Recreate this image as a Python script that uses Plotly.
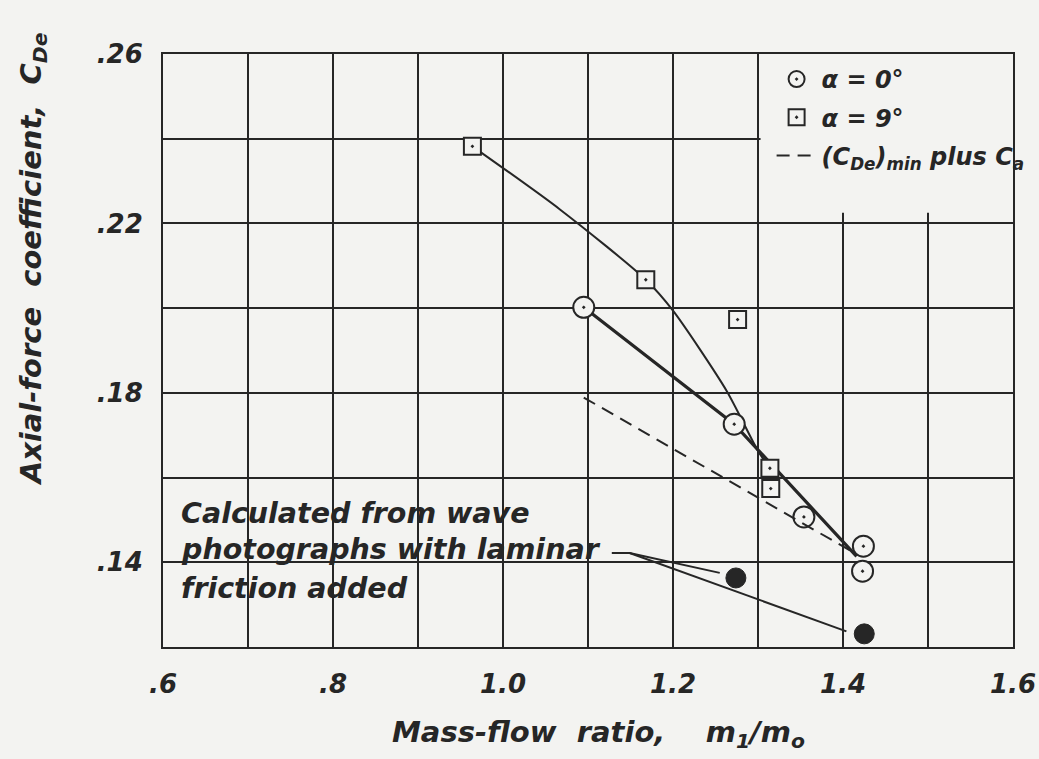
import plotly.graph_objects as go

# ---- data ----
alpha0_x = [1.095, 1.272, 1.354, 1.424, 1.423]
alpha0_y = [0.2002, 0.1726, 0.1507, 0.1438, 0.1379]

alpha9_x = [0.964, 1.168, 1.276, 1.314, 1.315]
alpha9_y = [0.2382, 0.2067, 0.1973, 0.1622, 0.1574]

calc_x = [1.274, 1.425]
calc_y = [0.1363, 0.1231]

# faired curves
fair0_x = [1.095, 1.272, 1.416]
fair0_y = [0.2002, 0.1726, 0.1414]

fair9_x = [0.964, 1.067, 1.168, 1.200, 1.263, 1.300, 1.314]
fair9_y = [0.2382, 0.2233, 0.2067, 0.1994, 0.1805, 0.1663, 0.1622]

dash_x = [1.095, 1.416]
dash_y = [0.1789, 0.1419]

lead1_x = [1.128, 1.149, 1.255]
lead1_y = [0.1422, 0.1422, 0.1375]
lead2_x = [1.149, 1.404]
lead2_y = [0.1422, 0.1237]

x_ticks = [0.6, 0.7, 0.8, 0.9, 1.0, 1.1, 1.2, 1.3, 1.4, 1.5, 1.6]
x_labels = [".6", "", ".8", "", "1.0", "", "1.2", "", "1.4", "", "1.6"]
y_ticks = [0.12, 0.14, 0.16, 0.18, 0.20, 0.22, 0.24, 0.26]
y_labels = ["", ".14", "", ".18", "", ".22", "", ".26"]

note_lines = ["Calculated from wave", "photographs with laminar", "friction added"]
note_y = [0.1516, 0.1431, 0.1338]

INK = "#262626"
BG = "#f3f3f1"
FONT = "DejaVu Sans"

fig = go.Figure()

line_kw = dict(mode="lines", hoverinfo="skip", showlegend=False)
fig.add_trace(go.Scatter(x=fair9_x, y=fair9_y, line=dict(color=INK, width=2, shape="spline", smoothing=0.7), **line_kw))
fig.add_trace(go.Scatter(x=fair0_x, y=fair0_y, line=dict(color=INK, width=3.2), **line_kw))
fig.add_trace(go.Scatter(x=lead1_x, y=lead1_y, line=dict(color=INK, width=2), **line_kw))
fig.add_trace(go.Scatter(x=lead2_x, y=lead2_y, line=dict(color=INK, width=2), **line_kw))

fig.add_trace(go.Scatter(x=calc_x, y=calc_y, mode="markers", showlegend=False,
                         marker=dict(symbol="circle", size=20, color=INK, line=dict(color=INK, width=1))))

fig.add_trace(go.Scatter(x=alpha0_x, y=alpha0_y, mode="markers", name="α = 0°", legendgroup="a",
                         marker=dict(symbol="circle-dot", size=21, color=BG, line=dict(color=INK, width=2))))
fig.add_trace(go.Scatter(x=alpha9_x, y=alpha9_y, mode="markers", name="α = 9°", legendgroup="b",
                         marker=dict(symbol="square-dot", size=17, color=BG, line=dict(color=INK, width=2))))
fig.add_trace(go.Scatter(x=dash_x, y=dash_y, mode="lines", legendgroup="c",
                         name="(C<sub>De</sub>)<sub>min</sub> plus C<sub>a</sub>",
                         line=dict(color=INK, width=2, dash="13px,8px")))

# blank area behind legend
fig.add_shape(type="rect", x0=1.303, x1=1.6, y0=0.2225, y1=0.26, xref="x", yref="y",
              fillcolor=BG, line=dict(width=0), layer="between")

for t, yy in zip(note_lines, note_y):
    fig.add_annotation(x=0.619, y=yy, xref="x", yref="y", text=t, showarrow=False,
                       xanchor="left", yanchor="middle",
                       font=dict(family=FONT, size=28.5, color=INK, style="italic", weight="bold"))

fig.add_annotation(x=-0.178, y=0.655, xref="paper", yref="paper", textangle=-90,
                   text="Axial-force  coefficient,  C<sub>De</sub>", showarrow=False,
                   font=dict(family=FONT, size=29, color=INK, style="italic", weight="bold"))
fig.add_annotation(x=0.512, y=-0.182, xref="paper", yref="paper",
                   text="Mass-flow  ratio,    m<sub>1</sub>/m<sub>o</sub>", showarrow=False,
                   font=dict(family=FONT, size=29, color=INK, style="italic", weight="bold"))

axis_common = dict(showgrid=True, gridcolor=INK, gridwidth=2, zeroline=False, automargin=False,
                   showline=True, linecolor=INK, linewidth=2, mirror=True, ticks="",
                   tickfont=dict(family=FONT, size=26, color=INK, style="italic", weight="bold"))

fig.update_xaxes(range=[0.6, 1.6], tickmode="array", tickvals=x_ticks, ticktext=x_labels,
                 ticklabelstandoff=13, **axis_common)
fig.update_yaxes(range=[0.12, 0.26], tickmode="array", tickvals=y_ticks, ticktext=y_labels,
                 ticklabelstandoff=13, **axis_common)

fig.update_layout(
    width=1039, height=759,
    margin=dict(l=163, r=26, t=54, b=112, autoexpand=False),
    paper_bgcolor=BG, plot_bgcolor=BG,
    showlegend=True,
    legend=dict(x=0.716, y=0.995, xanchor="left", yanchor="top", bgcolor="rgba(0,0,0,0)",
                traceorder="grouped", tracegroupgap=4,
                font=dict(family=FONT, size=24, color=INK, style="italic", weight="bold"),
                itemwidth=40),
)

fig.write_html("out.html", post_script="document.body.style.margin='0';",
               config={"displayModeBar": False})
